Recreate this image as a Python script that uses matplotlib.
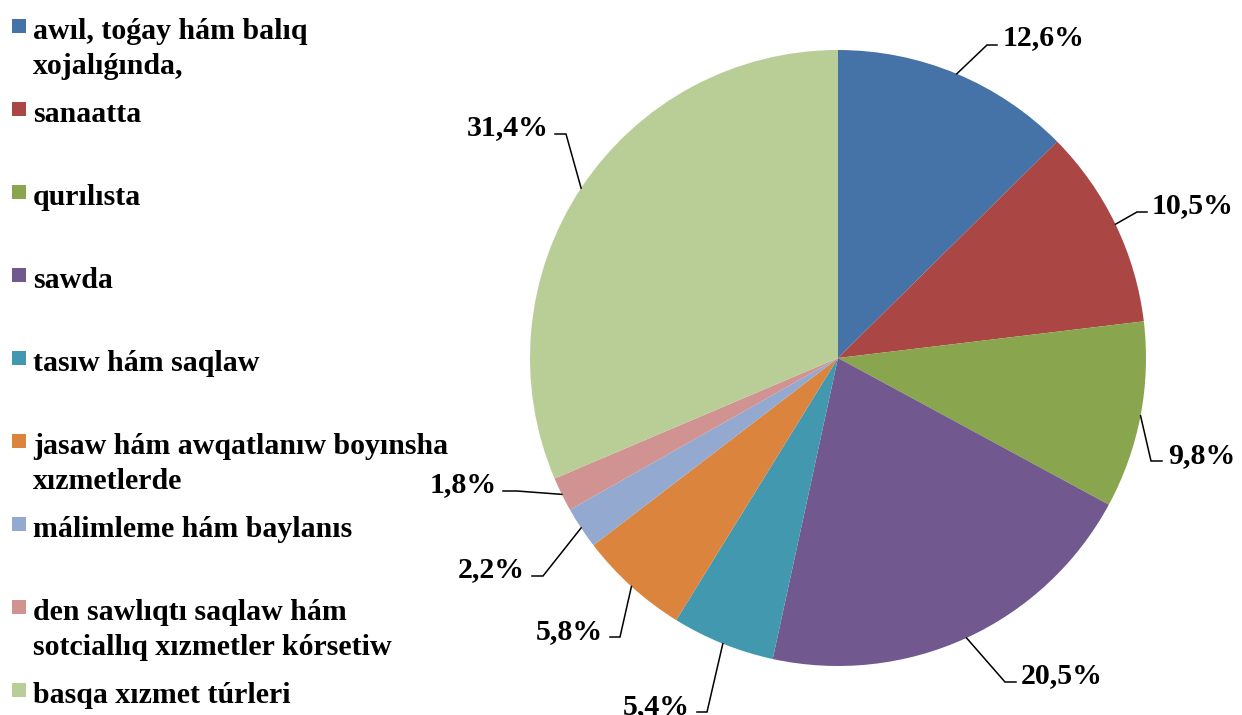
import numpy as np
import matplotlib
matplotlib.use("Agg")
import matplotlib.pyplot as plt

# ---- data ----
categories = [
    "awıl, toǵay hám balıq\nxojalıǵında,",
    "sanaatta",
    "qurılısta",
    "sawda",
    "tasıw hám saqlaw",
    "jasaw hám awqatlanıw boyınsha\nxızmetlerde",
    "málimleme hám baylanıs",
    "den sawlıqtı saqlaw hám\nsotciallıq xızmetler kórsetiw",
    "basqa xızmet túrleri",
]
values = [12.6, 10.5, 9.8, 20.5, 5.4, 5.8, 2.2, 1.8, 31.4]
value_labels = ["12,6%", "10,5%", "9,8%", "20,5%", "5,4%", "5,8%", "2,2%", "1,8%", "31,4%"]

colors = ["#4572A7", "#AA4643", "#89A54E", "#71588F", "#4198AF",
          "#DB843D", "#93A9CF", "#D19392", "#B9CD96"]

# ---- layout (pixel units, y measured from top) ----
W, H = 1242, 715
CX, CY, R = 838, 358, 308
# elbow point of leader, text anchor (x, baseline), horizontal alignment
elbows = [(987, 45), (1137, 212), (1151, 461), (1005, 682), (707, 712),
          (620, 637), (543, 576), (517, 491), (566, 134)]
ends_dx = [10, 10, 11, 11, -10, -10, -11, -14, -11]
text_pos = [(1003, 45), (1152, 213), (1168, 463), (1021, 683), (690, 714),
            (603, 639), (525, 577), (497, 492), (549, 135)]
text_ha = ["left", "left", "left", "left", "right", "right", "right", "right", "right"]

FONT = "Liberation Serif"
FS = 21.5

fig = plt.figure(figsize=(W / 100, H / 100), dpi=100)
ax = fig.add_axes([0, 0, 1, 1])
ax.set_xlim(0, W)
ax.set_ylim(0, H)
ax.set_aspect("equal")
ax.axis("off")

def fy(py):
    return H - py

wedges, _ = ax.pie(values, colors=colors, startangle=90, counterclock=False,
                   center=(CX, fy(CY)), radius=R, frame=True,
                   wedgeprops=dict(linewidth=0))
ax.set_xlim(0, W)
ax.set_ylim(0, H)
ax.axis("off")

for w, lab, el, dx, tp, ha in zip(wedges, value_labels, elbows, ends_dx, text_pos, text_ha):
    mid = np.deg2rad((w.theta1 + w.theta2) / 2)
    ex = CX + R * np.cos(mid)
    ey = fy(CY) + R * np.sin(mid)
    xs = [ex, el[0], el[0] + dx]
    ys = [ey, fy(el[1]), fy(el[1])]
    ax.plot(xs, ys, color="black", lw=1.1, solid_joinstyle="miter")
    ax.text(tp[0], fy(tp[1]), lab, ha=ha, va="baseline", fontsize=FS,
            fontweight="bold", family=FONT, color="black")

# ---- legend ----
base0, pitch, line_gap = 39, 83, 35
for i, (cat, col) in enumerate(zip(categories, colors)):
    b = base0 + i * pitch
    ax.add_patch(plt.Rectangle((12, fy(b - 6)), 14, 14, facecolor=col, edgecolor="none"))
    for j, line in enumerate(cat.split("\n")):
        ax.text(33, fy(b + j * line_gap), line, ha="left", va="baseline",
                fontsize=FS, fontweight="bold", family=FONT, color="black")

fig.savefig("out.png", dpi=100)
